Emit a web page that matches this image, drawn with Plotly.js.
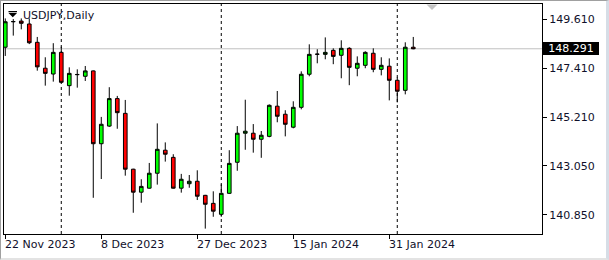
<!DOCTYPE html>
<html>
<head>
<meta charset="utf-8">
<script src="https://cdn.plot.ly/plotly-3.0.1.min.js"></script>
<style>
  html, body { margin: 0; padding: 0; background: #fff; }
  #wrap { position: relative; width: 609px; height: 260px; overflow: hidden; }
  #chart { position: absolute; left: 0; top: 0; width: 609px; height: 260px; }
  #frame { position: absolute; left: 0; top: 0; width: 609px; height: 260px; box-sizing: border-box;
           border-top: 1px solid #a0a0a0; border-left: 1px solid #a0a0a0;
           border-right: 3px solid #d6dde6; border-bottom: 2px solid #e3e3e3; pointer-events: none; }
</style>
</head>
<body>
<div id="wrap"><div id="chart"></div><div id="frame"></div></div>
<script>
// ---- data (USDJPY, Daily) ----
const dates = [
  "2023-11-22","2023-11-23","2023-11-24","2023-11-27","2023-11-28","2023-11-29","2023-11-30",
  "2023-12-01","2023-12-04","2023-12-05","2023-12-06","2023-12-07","2023-12-08",
  "2023-12-11","2023-12-12","2023-12-13","2023-12-14","2023-12-15",
  "2023-12-18","2023-12-19","2023-12-20","2023-12-21","2023-12-22",
  "2023-12-26","2023-12-27","2023-12-28","2023-12-29",
  "2024-01-02","2024-01-03","2024-01-04","2024-01-05",
  "2024-01-08","2024-01-09","2024-01-10","2024-01-11","2024-01-12",
  "2024-01-15","2024-01-16","2024-01-17","2024-01-18","2024-01-19",
  "2024-01-22","2024-01-23","2024-01-24","2024-01-25","2024-01-26",
  "2024-01-29","2024-01-30","2024-01-31","2024-02-01","2024-02-02","2024-02-05"
];
const open  = [148.36,149.50,149.53,149.40,148.58,147.42,147.16,
  148.13,146.64,147.13,147.06,147.30,144.04,
  144.83,146.06,145.40,142.90,141.87,
  142.05,142.72,143.75,143.43,142.05,
  142.25,142.36,141.73,141.37,
  140.88,141.82,143.21,144.51,
  144.51,144.24,144.37,145.72,145.36,
  144.78,145.67,147.15,148.04,148.04,
  148.22,148.00,148.31,147.42,147.55,
  148.09,147.37,147.51,146.88,146.43,148.36];
const high  = [149.65,149.62,149.65,149.65,148.82,147.91,148.54,
  148.38,147.46,147.37,147.52,147.32,145.24,
  146.57,146.18,146.00,142.92,142.45,
  143.18,144.95,144.10,143.57,142.69,
  142.64,142.85,141.75,141.91,
  142.22,143.75,144.83,146.01,
  144.92,144.61,145.80,146.40,145.54,
  145.94,147.28,148.49,148.27,148.80,
  148.31,148.67,148.36,147.95,148.18,
  148.31,147.91,147.86,147.01,148.58,148.82];
const low   = [147.97,148.88,149.16,148.50,147.31,146.64,146.82,
  146.75,146.19,146.55,146.85,141.62,142.46,
  144.79,144.71,142.61,140.95,141.40,
  142.03,142.21,143.24,142.03,141.85,
  142.07,141.52,140.24,140.77,
  140.77,141.80,142.83,143.77,
  143.64,143.41,144.33,145.00,144.37,
  144.73,145.58,147.06,147.64,147.82,
  147.60,146.97,146.66,147.06,147.42,
  147.24,147.10,145.98,145.89,146.25,148.27];
const close = [149.50,149.51,149.43,148.56,147.48,147.19,148.13,
  146.79,147.19,147.14,147.30,144.04,144.91,
  146.06,145.43,142.90,141.87,142.13,
  142.72,143.79,143.57,142.05,142.45,
  142.36,141.69,141.33,141.02,
  141.82,143.16,144.51,144.60,
  144.24,144.42,145.76,145.27,144.91,
  145.67,147.15,148.04,148.05,148.13,
  147.95,148.31,147.46,147.64,148.13,
  147.37,147.55,146.88,146.39,148.36,148.291];

const symbolTitle = "USDJPY,Daily";
const bidPrice = 148.291;
const priceTicks = [149.61, 147.41, 145.21, 143.05, 140.85];
const labelDates = ["2023-11-22","2023-12-08","2023-12-27","2024-01-15","2024-01-31"];
const labelTexts = ["22 Nov 2023","8 Dec 2023","27 Dec 2023","15 Jan 2024","31 Jan 2024"];
const separatorDates = ["2023-12-01","2024-01-02","2024-02-01"];

// ---- geometry helpers (pixel -> paper) ----
const W = 609, H = 260, ML = 4, MR = 67, MT = 4, MB = 26;
const PW = W - ML - MR, PH = H - MT - MB;
const px = v => (v - ML) / PW;
const py = v => 1 - (v - MT) / PH;

const trace = {
  type: 'candlestick',
  x: dates, open: open, high: high, low: low, close: close,
  increasing: { line: { color: '#000000', width: 1 }, fillcolor: '#00ff00' },
  decreasing: { line: { color: '#000000', width: 1 }, fillcolor: '#ff0000' },
  whiskerwidth: 0,
  hoverinfo: 'skip'
};

const shapes = [];
separatorDates.forEach(d => shapes.push({
  type: 'line', xref: 'x', yref: 'paper', x0: d, x1: d, y0: 0, y1: 1,
  line: { color: '#000000', width: 1, dash: '3px,3px' }, layer: 'below'
}));
shapes.push({
  type: 'line', xref: 'paper', yref: 'y', x0: 0, x1: 1, y0: bidPrice, y1: bidPrice,
  line: { color: '#c0c0c0', width: 1 }, layer: 'below'
});
// one-click trading icon (top-left)
shapes.push({
  type: 'path', xref: 'paper', yref: 'paper',
  path: `M ${px(8.5)} ${py(11)} L ${px(17)} ${py(11)} L ${px(17)} ${py(12.2)} L ${px(8.5)} ${py(12.2)} Z ` +
        `M ${px(8.5)} ${py(13)} L ${px(17)} ${py(13)} L ${px(12.75)} ${py(17.2)} Z`,
  fillcolor: '#000000', line: { width: 0 }, layer: 'above'
});
// shift marker (top)
shapes.push({
  type: 'path', xref: 'paper', yref: 'paper',
  path: `M ${px(426.5)} ${py(4.5)} L ${px(437.5)} ${py(4.5)} L ${px(432)} ${py(10)} Z`,
  fillcolor: '#c4c4c4', line: { width: 0 }, layer: 'above'
});

const annotations = [];
annotations.push({
  xref: 'paper', yref: 'paper', x: 0, y: 1, xanchor: 'left', yanchor: 'top',
  xshift: 17, yshift: -3, showarrow: false, text: symbolTitle,
  font: { family: 'DejaVu Sans', size: 11, color: '#10102a' }
});
labelDates.forEach((d, i) => annotations.push({
  xref: 'x', yref: 'paper', x: d, y: 0, xanchor: 'left', yanchor: 'top',
  xshift: -2, yshift: -2, showarrow: false, text: labelTexts[i],
  font: { family: 'DejaVu Sans', size: 11, color: '#10102a' }
}));
annotations.push({
  xref: 'paper', yref: 'y', x: 1, y: bidPrice, xanchor: 'left', yanchor: 'middle',
  xshift: 1, showarrow: false, text: bidPrice.toFixed(3),
  bgcolor: '#000000', borderpad: 1, borderwidth: 0, width: 54, height: 11,
  font: { family: 'DejaVu Sans', size: 11, color: '#ffffff' }
});

const layout = {
  width: W, height: H,
  margin: { l: ML, r: MR, t: MT, b: MB, pad: 0 },
  paper_bgcolor: '#ffffff', plot_bgcolor: '#ffffff',
  font: { family: 'DejaVu Sans', size: 11, color: '#10102a' },
  showlegend: false,
  boxgap: 0.35,
  xaxis: {
    type: 'category', range: [-0.16, 67.09], fixedrange: true,
    rangeslider: { visible: false },
    showgrid: false, zeroline: false,
    showline: true, mirror: true, linecolor: '#000000', linewidth: 1,
    tickmode: 'array', tickvals: labelDates, showticklabels: false,
    ticks: 'outside', ticklen: 4, tickcolor: '#000000', tickwidth: 1
  },
  yaxis: {
    side: 'right', range: [139.999, 150.295], fixedrange: true,
    showgrid: false, zeroline: false,
    showline: true, mirror: true, linecolor: '#000000', linewidth: 1,
    tickmode: 'array', tickvals: priceTicks, ticktext: priceTicks.map(v => v.toFixed(3)),
    ticks: 'outside', ticklen: 4, tickcolor: '#000000', tickwidth: 1,
    tickfont: { family: 'DejaVu Sans', size: 11, color: '#10102a' }
  },
  shapes: shapes,
  annotations: annotations
};

Plotly.newPlot('chart', [trace], layout, { displayModeBar: false, staticPlot: true });
</script>
</body>
</html>
